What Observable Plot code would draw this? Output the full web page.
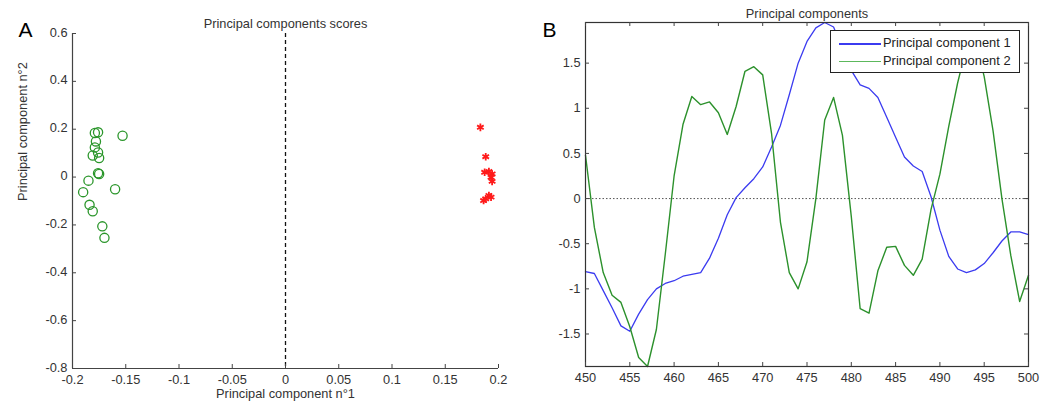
<!DOCTYPE html>
<html>
<head>
<meta charset="utf-8">
<script src="https://cdn.jsdelivr.net/npm/d3@7"></script>
<script src="https://cdn.jsdelivr.net/npm/@observablehq/plot@0.6"></script>
<style>
html, body { margin: 0; padding: 0; background: #fff; }
#wrap { position: relative; width: 1041px; height: 408px; overflow: hidden; font-family: "Liberation Sans", Arial, sans-serif; }
#left { position: absolute; left: 0; top: 0; }
#right { position: absolute; left: 520px; top: 0; }
#legend { position: absolute; left: 830px; top: 30px; width: 190px; height: 43px; border: 1px solid #222; background: #fff; box-sizing: border-box; font-size: 12.9px; color: #222; }
#legend .row { position: absolute; left: 0; height: 16px; width: 100%; }
#legend .sample { position: absolute; left: 8px; width: 42px; top: 8px; }
#legend .lab { position: absolute; left: 52px; top: 0; line-height: 16px; white-space: nowrap; }
</style>
</head>
<body>
<div id="wrap">
  <div id="left"></div>
  <div id="right"></div>
  <div id="legend"></div>
</div>
<script>
// ---------- Panel A data: principal component scores ----------
const greenScoresX = [-0.179, -0.176, -0.153, -0.178, -0.179, -0.176, -0.181, -0.175, -0.176, -0.175, -0.185, -0.190, -0.160, -0.184, -0.181, -0.172, -0.170];
const greenScoresY = [0.184, 0.187, 0.173, 0.149, 0.124, 0.103, 0.090, 0.080, 0.016, 0.013, -0.015, -0.063, -0.051, -0.116, -0.143, -0.206, -0.254];
const redScoresX = [0.183, 0.188, 0.187, 0.191, 0.194, 0.193, 0.194, 0.191, 0.188, 0.186, 0.193];
const redScoresY = [0.208, 0.085, 0.020, 0.023, 0.013, -0.001, -0.018, -0.077, -0.091, -0.098, -0.084];
const xTicksA = [-0.2, -0.15, -0.1, -0.05, 0, 0.05, 0.1, 0.15, 0.2];
const yTicksA = [-0.8, -0.6, -0.4, -0.2, 0, 0.2, 0.4, 0.6];
const titleA = "Principal components scores";
const xLabelA = "Principal component n°1";
const yLabelA = "Principal component n°2";

// ---------- Panel B data: principal component loadings ----------
const wavelengths = [450, 451, 452, 453, 454, 455, 456, 457, 458, 459, 460, 461, 462, 463, 464, 465, 466, 467, 468, 469, 470, 471, 472, 473, 474, 475, 476, 477, 478, 479, 480, 481, 482, 483, 484, 485, 486, 487, 488, 489, 490, 491, 492, 493, 494, 495, 496, 497, 498, 499, 500];
const pc1 = [-0.81, -0.83, -1.02, -1.21, -1.41, -1.47, -1.28, -1.12, -1.00, -0.94, -0.91, -0.86, -0.84, -0.82, -0.66, -0.44, -0.18, 0.01, 0.12, 0.22, 0.35, 0.57, 0.81, 1.15, 1.50, 1.74, 1.89, 1.95, 1.90, 1.65, 1.42, 1.26, 1.22, 1.12, 0.90, 0.68, 0.46, 0.36, 0.30, 0.02, -0.35, -0.64, -0.78, -0.82, -0.79, -0.72, -0.60, -0.47, -0.37, -0.37, -0.40];
const pc2 = [0.48, -0.32, -0.82, -1.07, -1.15, -1.42, -1.76, -1.86, -1.45, -0.62, 0.25, 0.82, 1.13, 1.04, 1.07, 0.95, 0.71, 1.02, 1.41, 1.46, 1.37, 0.72, -0.26, -0.82, -1.00, -0.70, 0.00, 0.87, 1.12, 0.70, -0.20, -1.22, -1.27, -0.80, -0.54, -0.53, -0.74, -0.85, -0.67, -0.12, 0.27, 0.80, 1.28, 1.68, 1.76, 1.35, 0.75, 0.00, -0.63, -1.14, -0.85];
const xTicksB = [450, 455, 460, 465, 470, 475, 480, 485, 490, 495, 500];
const yTicksB = [-1.5, -1, -0.5, 0, 0.5, 1, 1.5];
const yDomainB = [-1.86, 1.95];
const titleB = "Principal components";
const seriesNames = ["Principal component 1", "Principal component 2"];
const seriesColors = ["#3b3bf0", "#2c912c"];

const fmt = d => String(+d.toFixed(2));
const textColor = "#333";
const axisColor = "#444";
const fontStyle = {fontFamily: "'Liberation Sans', Arial, sans-serif", fontSize: "12.8px", color: textColor, background: "white", overflow: "visible"};
const TICK = 4;

// ---------- Panel A ----------
const A = {width: 520, height: 408, ml: 72, mr: 22, mt: 33, mb: 40};
const innerWA = A.width - A.ml - A.mr, innerHA = A.height - A.mt - A.mb;
const greenPts = greenScoresX.map((x, i) => ({x, y: greenScoresY[i]}));
const redPts = redScoresX.map((x, i) => ({x, y: redScoresY[i]}));

const plotA = Plot.plot({
  width: A.width, height: A.height,
  marginLeft: A.ml, marginRight: A.mr, marginTop: A.mt, marginBottom: A.mb,
  style: fontStyle,
  x: {domain: [xTicksA[0], xTicksA[xTicksA.length - 1]]},
  y: {domain: [yTicksA[0], yTicksA[yTicksA.length - 1]]},
  marks: [
    Plot.ruleX([0], {stroke: "#111", strokeWidth: 1.3, strokeDasharray: "4,3"}),
    Plot.dot(greenPts, {x: "x", y: "y", r: 4.6, stroke: "#2b962b", strokeWidth: 1.3, fill: "none"}),
    Plot.dot(redPts, {x: "x", y: "y", r: 3.6, symbol: "asterisk", stroke: "#ff1a1a", strokeWidth: 1.8}),
    Plot.ruleX([xTicksA[0]], {stroke: axisColor, strokeWidth: 1.2}),
    Plot.ruleY([yTicksA[0]], {stroke: axisColor, strokeWidth: 1.2}),
    Plot.tickX(xTicksA, {x: d => d, insetTop: innerHA - TICK, stroke: axisColor}),
    Plot.tickY(yTicksA, {y: d => d, insetRight: innerWA - TICK, stroke: axisColor}),
    Plot.axisX({ticks: xTicksA, tickSize: 0, tickPadding: 6, tickFormat: fmt, label: null}),
    Plot.axisY({ticks: yTicksA, tickSize: 0, tickPadding: 5, tickFormat: fmt, label: null, dy: -1}),
    Plot.text([titleA], {text: d => d, frameAnchor: "top", dy: -15, fill: textColor}),
    Plot.text([xLabelA], {text: d => d, frameAnchor: "bottom", dy: 29, fill: textColor}),
    Plot.text([yLabelA], {text: d => d, frameAnchor: "left", dx: -50, rotate: -90, fill: textColor}),
    Plot.text(["A"], {text: d => d, frameAnchor: "top-left", dx: -54, dy: -11, fontSize: 21, fill: "#000"})
  ]
});
document.getElementById("left").appendChild(plotA);

// ---------- Panel B ----------
const B = {width: 521, height: 408, ml: 65, mr: 13, mt: 22, mb: 42};
const innerWB = B.width - B.ml - B.mr, innerHB = B.height - B.mt - B.mb;
const rows = wavelengths.map((w, i) => ({w, pc1: pc1[i], pc2: pc2[i]}));

const plotB = Plot.plot({
  width: B.width, height: B.height,
  marginLeft: B.ml, marginRight: B.mr, marginTop: B.mt, marginBottom: B.mb,
  style: fontStyle,
  x: {domain: [xTicksB[0], xTicksB[xTicksB.length - 1]]},
  y: {domain: yDomainB},
  marks: [
    Plot.ruleY([0], {stroke: "#555", strokeWidth: 1, strokeDasharray: "1.5,2"}),
    Plot.line(rows, {x: "w", y: "pc1", stroke: seriesColors[0], strokeWidth: 1.3}),
    Plot.line(rows, {x: "w", y: "pc2", stroke: seriesColors[1], strokeWidth: 1.4}),
    Plot.frame({stroke: "#333", strokeWidth: 1.2}),
    Plot.tickX(xTicksB, {x: d => d, insetTop: innerHB - TICK, stroke: axisColor}),
    Plot.tickX(xTicksB, {x: d => d, insetBottom: innerHB - TICK, stroke: axisColor}),
    Plot.tickY(yTicksB, {y: d => d, insetRight: innerWB - TICK, stroke: axisColor}),
    Plot.tickY(yTicksB, {y: d => d, insetLeft: innerWB - TICK, stroke: axisColor}),
    Plot.axisX({ticks: xTicksB, tickSize: 0, tickPadding: 6, tickFormat: d => String(d), label: null}),
    Plot.axisY({ticks: yTicksB, tickSize: 0, tickPadding: 5, tickFormat: fmt, label: null}),
    Plot.text([titleB], {text: d => d, frameAnchor: "top", dy: -14, fill: textColor}),
    Plot.text(["B"], {text: d => d, frameAnchor: "top-left", dx: -43, dy: 0, fontSize: 21, fill: "#000"})
  ]
});
document.getElementById("right").appendChild(plotB);

// ---------- Legend ----------
const legend = document.getElementById("legend");
seriesNames.forEach((name, i) => {
  const row = document.createElement("div");
  row.className = "row";
  row.style.top = (4 + i * 18) + "px";
  const s = document.createElement("div");
  s.className = "sample";
  s.style.height = (i === 0 ? 1.6 : 1.2) + "px";
  s.style.background = i === 0 ? seriesColors[i] : "#5cb85c";
  const t = document.createElement("div");
  t.className = "lab";
  t.textContent = name;
  row.appendChild(s);
  row.appendChild(t);
  legend.appendChild(row);
});
</script>
</body>
</html>
